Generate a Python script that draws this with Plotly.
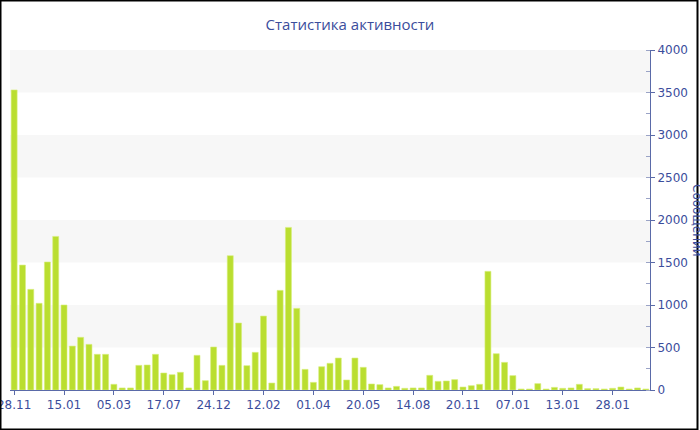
import plotly.graph_objects as go

# Data
values = [3530, 1470, 1184, 1020, 1506, 1807, 1000, 517, 620, 537,
          420, 420, 67, 24, 24, 290, 294, 420, 200, 180,
          208, 24, 408, 110, 506, 290, 1580, 788, 286, 443,
          870, 82, 1172, 1913, 960, 243, 90, 274, 314, 376,
          118, 376, 267, 71, 63, 24, 43, 20, 24, 24,
          173, 102, 106, 122, 35, 51, 67, 1396, 427, 325,
          169, 12, 12, 75, 12, 31, 20, 24, 67, 16,
          16, 12, 20, 35, 12, 24, 12]
positions = list(range(len(values)))
tick_labels = ["28.11", "15.01", "05.03", "17.07", "24.12", "12.02", "01.04",
               "20.05", "14.08", "20.11", "07.01", "13.01", "28.01"]
tick_positions = [0, 6, 12, 18, 24, 30, 36, 42, 48, 54, 60, 66, 72]
band_ranges = [(500, 1000), (1500, 2000), (2500, 3000), (3500, 4000)]

TEXT = "#3b4d9c"
AXIS = "#5a6aa8"
BAR = "#bade30"

fig = go.Figure()
fig.add_trace(go.Bar(
    x=positions, y=values,
    marker=dict(color=BAR, line=dict(color="#d6ee7a", width=0.6)),
    hoverinfo="y",
))

shapes = []
for lo, hi in band_ranges:
    shapes.append(dict(type="rect", xref="paper", yref="y", x0=0, x1=1, y0=lo, y1=hi,
                       fillcolor="#f7f7f7", line=dict(width=0), layer="below"))

W, H = 700, 430
ml, mr, mt, mb = 10, 50, 50, 40
pw, ph = W - ml - mr, H - mt - mb
shapes.append(dict(type="rect", xref="paper", yref="paper",
                   x0=-(ml - 0.5) / pw, x1=1 + (mr - 2.5) / pw,
                   y0=-(mb - 0.5) / ph, y1=1 + (mt - 0.5) / ph,
                   line=dict(color="black", width=2), fillcolor="rgba(0,0,0,0)"))

fig.update_layout(
    width=W, height=H,
    margin=dict(l=ml, r=mr, t=mt, b=mb, autoexpand=False),
    paper_bgcolor="white", plot_bgcolor="white",
    bargap=0.28,
    showlegend=False,
    shapes=shapes,
    title=dict(text="Статистика активности", x=0.5, xref="container", xanchor="center",
               y=1 - 25 / H, yref="container", yanchor="middle",
               font=dict(family="Open Sans", size=15, color=TEXT)),
    font=dict(family="DejaVu Sans", size=12, color=TEXT),
    xaxis=dict(
        range=[-0.5, len(values) - 0.5],
        tickmode="array", tickvals=tick_positions, ticktext=tick_labels,
        showgrid=False, zeroline=False, automargin=False,
        ticklabeloverflow="allow",
        showline=True, linecolor=AXIS, linewidth=1,
        ticks="outside", ticklen=4, tickcolor=AXIS,
        tickfont=dict(family="DejaVu Sans", size=12, color=TEXT),
    ),
    yaxis=dict(
        side="right", range=[0, 4000],
        tickmode="linear", tick0=0, dtick=500,
        showgrid=False, zeroline=False, automargin=False,
        ticklabeloverflow="allow",
        showline=True, linecolor=AXIS, linewidth=1,
        ticks="outside", ticklen=4, tickcolor=AXIS,
        minor=dict(dtick=250, ticks="inside", ticklen=4, tickcolor="#9aa3c6"),
        tickfont=dict(family="DejaVu Sans", size=12, color=TEXT),
    ),
    annotations=[dict(text="Сообщений", textangle=90, xref="paper", yref="paper",
                      x=1 + 38 / pw, y=0.5, xanchor="left", yanchor="middle",
                      showarrow=False, font=dict(family="DejaVu Sans", size=12, color=TEXT))],
)

fig.write_html("out.html", config={"displayModeBar": False},
               post_script="document.body.style.margin='0';document.body.style.padding='0';")
